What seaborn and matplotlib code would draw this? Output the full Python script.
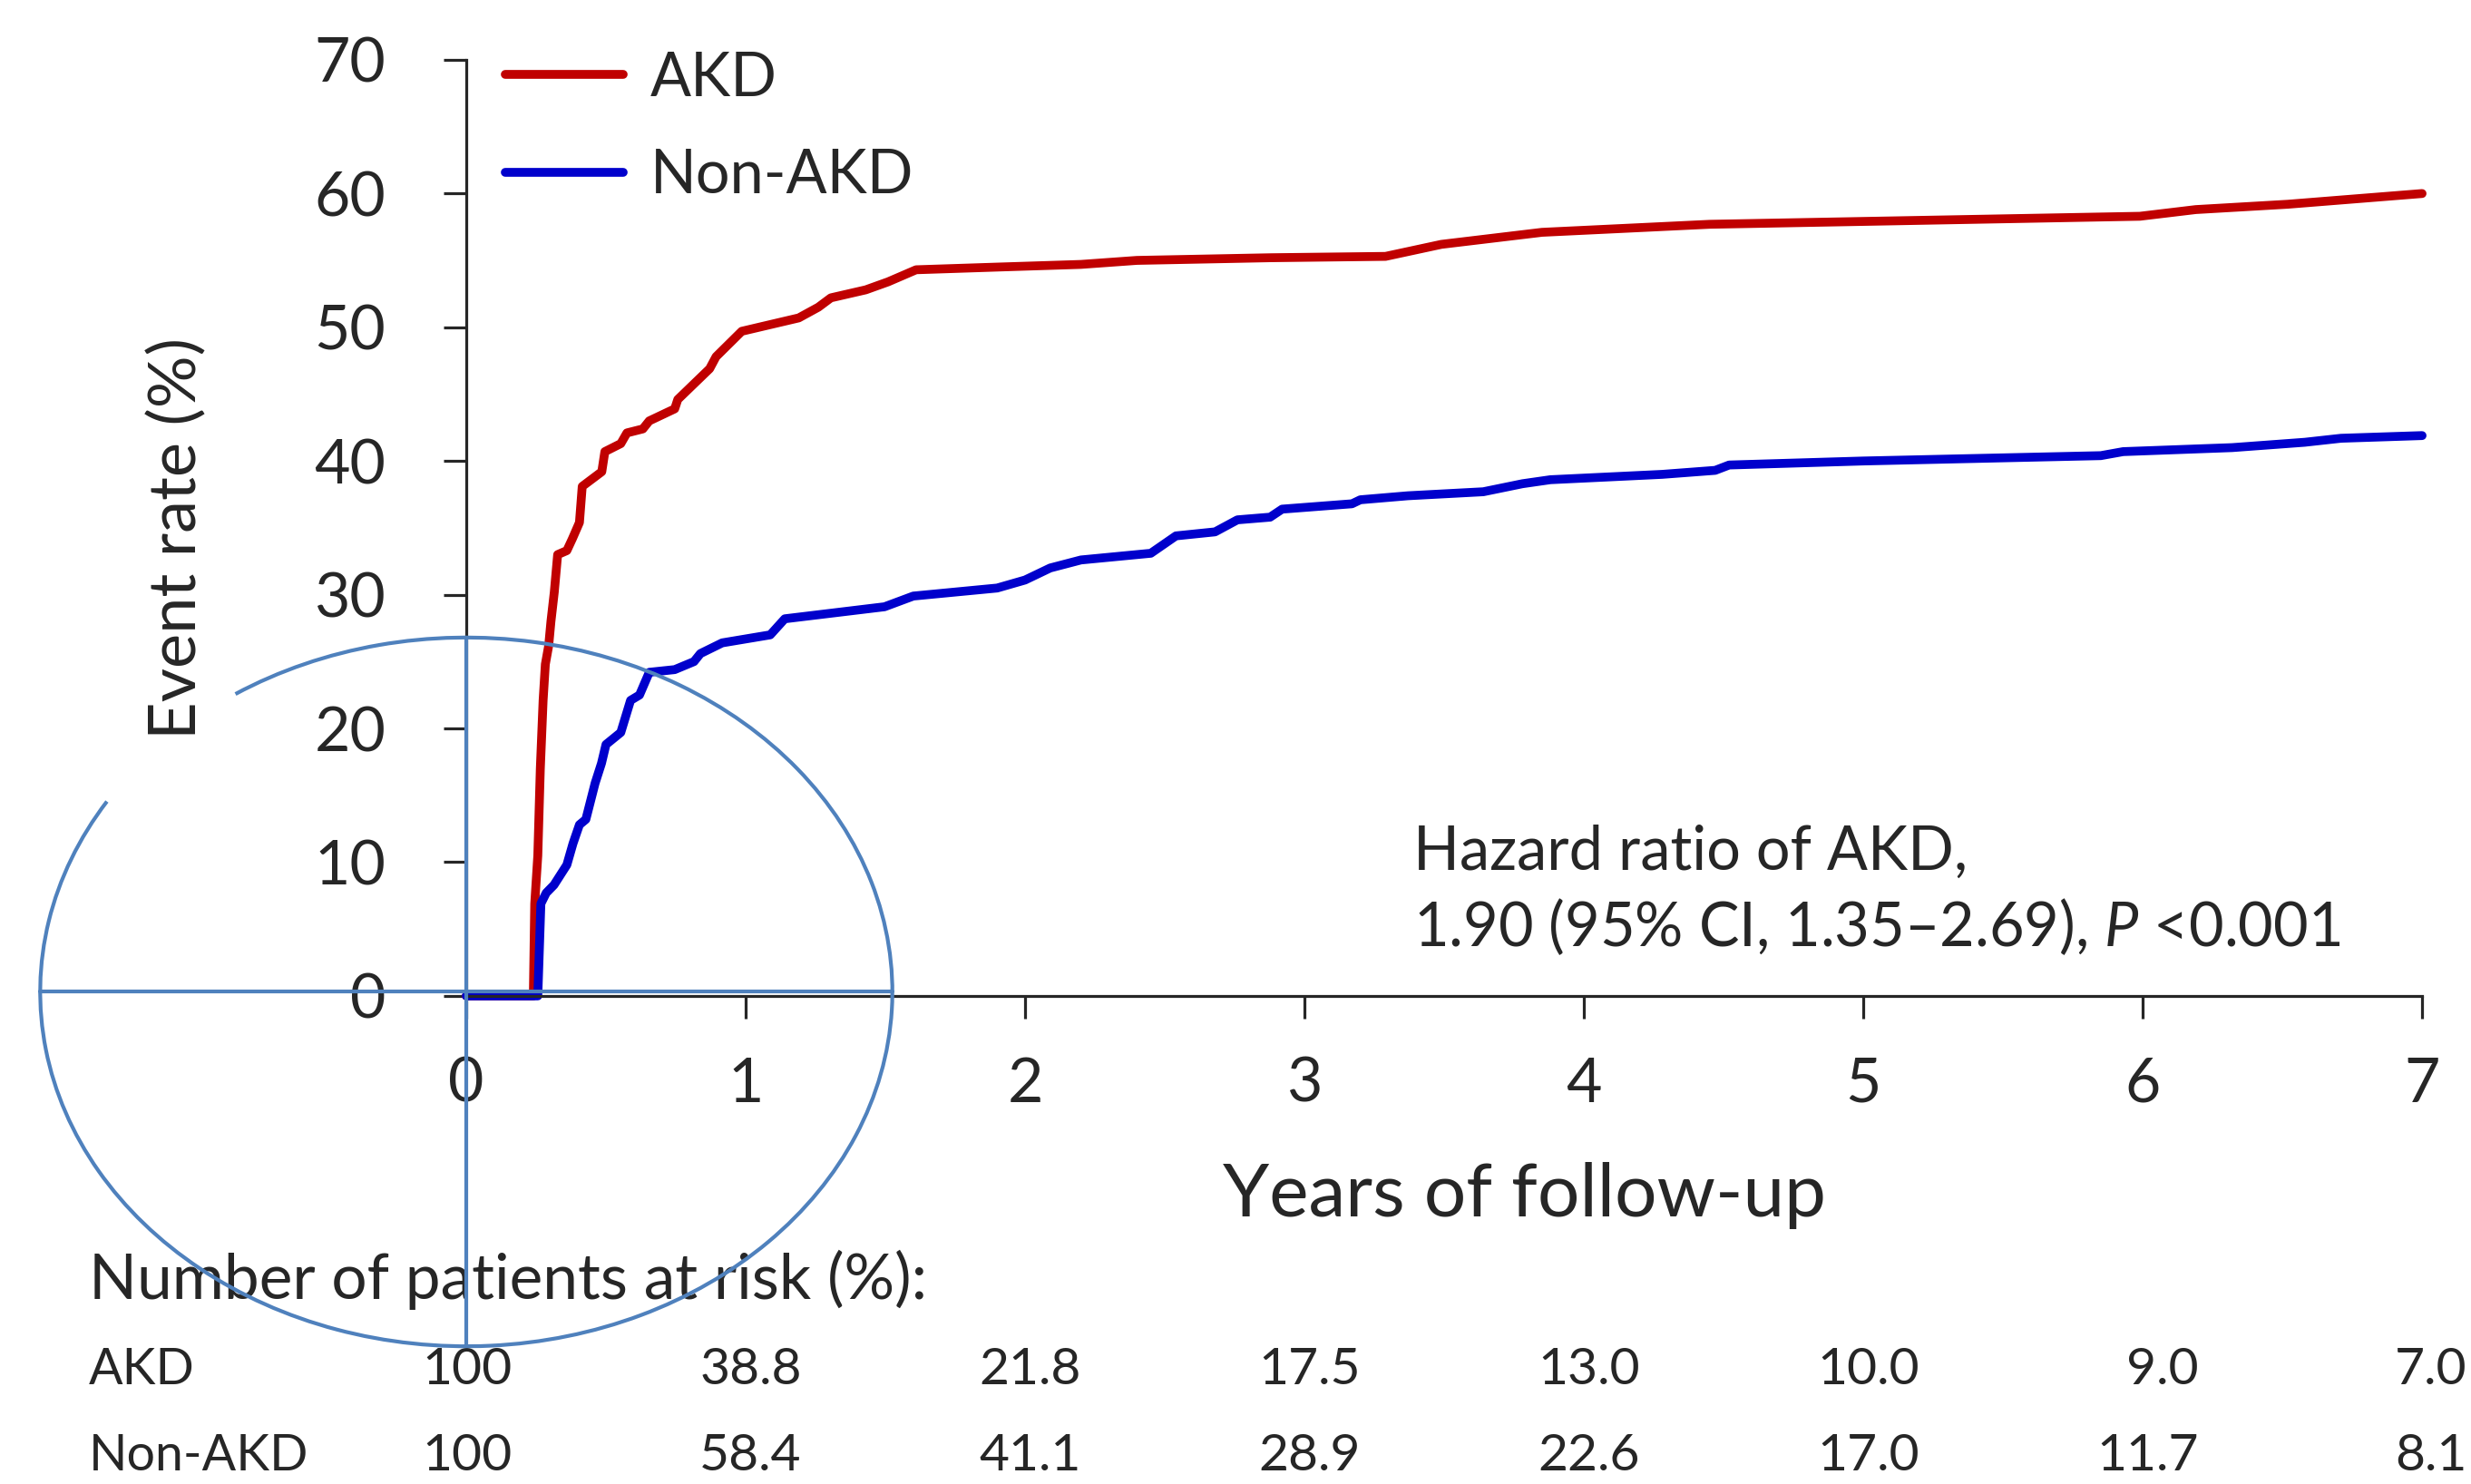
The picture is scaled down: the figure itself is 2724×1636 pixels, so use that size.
import numpy as np
import pandas as pd
import seaborn as sns
import matplotlib.pyplot as plt
from matplotlib.patches import Arc

# cumulative event rate (%)
akd_years = [0, 0.24, 0.245, 0.256, 0.265, 0.275, 0.283, 0.295, 0.303, 0.315, 0.327,
             0.36, 0.38, 0.405, 0.415, 0.485, 0.496, 0.553, 0.575, 0.632, 0.655,
             0.746, 0.757, 0.871, 0.894, 0.986, 1.19, 1.26, 1.305, 1.43, 1.51,
             1.61, 1.90, 2.2, 2.4, 2.88, 3.29, 3.49, 3.85, 4.45, 5.99, 6.19, 6.52, 7.0]
akd_rate = [0, 0, 6.9, 10.5, 17.0, 22.1, 24.8, 26.2, 28.0, 30.2, 33.0,
            33.3, 34.2, 35.4, 38.1, 39.2, 40.7, 41.3, 42.1, 42.4, 43.0,
            43.9, 44.6, 46.9, 47.8, 49.7, 50.7, 51.5, 52.2, 52.8, 53.4,
            54.3, 54.5, 54.7, 55.0, 55.2, 55.3, 56.2, 57.1, 57.7, 58.3, 58.8, 59.2, 60.0]

non_akd_years = [0, 0.256, 0.267, 0.286, 0.314, 0.36, 0.382, 0.405, 0.428, 0.461,
                 0.484, 0.5, 0.553, 0.588, 0.62, 0.655, 0.746, 0.815, 0.838, 0.916,
                 1.088, 1.14, 1.497, 1.60, 1.90, 2.0, 2.09, 2.2, 2.45, 2.54, 2.68,
                 2.76, 2.877, 2.92, 3.17, 3.20, 3.37, 3.64, 3.78, 3.88, 4.28, 4.47,
                 4.52, 5.0, 5.85, 5.93, 6.32, 6.58, 6.71, 7.0]
non_akd_rate = [0, 0, 6.9, 7.7, 8.3, 9.8, 11.4, 12.8, 13.2, 15.9,
                17.4, 18.8, 19.7, 22.1, 22.5, 24.2, 24.4, 25.0, 25.6, 26.4,
                27.0, 28.2, 29.1, 29.9, 30.5, 31.1, 32.0, 32.6, 33.1, 34.4, 34.7,
                35.6, 35.8, 36.4, 36.8, 37.1, 37.4, 37.7, 38.3, 38.6, 39.0, 39.3,
                39.7, 40.0, 40.4, 40.7, 41.0, 41.4, 41.7, 41.9]

# patients at risk table
risk_years = [0, 1, 2, 3, 4, 5, 6, 7]
risk_akd = ['100', '38.8', '21.8', '17.5', '13.0', '10.0', '9.0', '7.0']
risk_non_akd = ['100', '58.4', '41.1', '28.9', '22.6', '17.0', '11.7', '8.1']

df = pd.concat([
    pd.DataFrame({'years': akd_years, 'rate': akd_rate, 'group': 'AKD'}),
    pd.DataFrame({'years': non_akd_years, 'rate': non_akd_rate, 'group': 'Non-AKD'}),
])

sns.set_style('ticks')
plt.rcParams['font.family'] = ['Lato', 'DejaVu Sans']
plt.rcParams['mathtext.fontset'] = 'custom'
plt.rcParams['mathtext.rm'] = 'Lato'
plt.rcParams['mathtext.it'] = 'Lato:italic'

fig = plt.figure(figsize=(27.24, 16.36), dpi=100)
ax = fig.add_axes([0.1887, 0.3289, 0.9802 - 0.1887, 0.9597 - 0.3289])

sns.lineplot(data=df, x='years', y='rate', hue='group', hue_order=['AKD', 'Non-AKD'],
             palette={'AKD': '#c00000', 'Non-AKD': '#0000cc'}, linewidth=7,
             estimator=None, sort=False, ax=ax)
for ln in ax.lines:
    ln.set_clip_on(False)

ax.set_xlim(0, 7)
ax.set_ylim(0, 70)
ax.set_xticks(range(0, 8))
ax.set_yticks(range(0, 71, 10))
sns.despine(ax=ax)
for s in ['left', 'bottom']:
    ax.spines[s].set_linewidth(2.3)
ax.tick_params(axis='both', width=2.3, length=18, labelsize=49)
ax.tick_params(axis='x', pad=30)
ax.tick_params(axis='y', pad=46)

ax.set_xlabel('Years of follow-up', fontsize=59, va='center')
ax.xaxis.set_label_coords(0.541, -0.213)
ax.set_ylabel('Event rate (%)', fontsize=52, va='center')
ax.yaxis.set_label_coords(-0.148, 0.489)

handles, labels = ax.get_legend_handles_labels()
ax.legend(handles, labels, loc='upper left', bbox_to_anchor=(0.02, 1.01), frameon=False,
          fontsize=48, handlelength=1.95, handletextpad=0.45, labelspacing=0.68,
          borderpad=0, borderaxespad=0)

ax.text(3.39, 10.7, 'Hazard ratio of AKD,', fontsize=48, va='center', ha='left')
ax.text(3.39, 5.2, '1.90 (95% CI, 1.35\u20132.69), $P$ <0.001', fontsize=48,
        va='center', ha='left')

# risk table
ax.text(-1.35, -21.2, 'Number of patients at risk (%):', fontsize=50, va='center',
        ha='left', clip_on=False)
ax.text(-1.35, -28.0, 'AKD', fontsize=40, va='center', ha='left', clip_on=False)
ax.text(-1.35, -34.4, 'Non-AKD', fontsize=40, va='center', ha='left', clip_on=False)
pos = np.array(risk_years) + 0.2
pos[0] = 0.165
pos[-1] = 7.16
for xp, a, b in zip(pos, risk_akd, risk_non_akd):
    ax.text(xp, -28.0, a, fontsize=41, va='center', ha='right', clip_on=False)
    ax.text(xp, -34.4, b, fontsize=41, va='center', ha='right', clip_on=False)

# overlaid ellipse with cross lines (gap in the upper-left part of the outline)
oc = '#4f81bd'
ew, eh = 3.05, 53.0
t_start, t_end = np.radians(147.5), np.radians(482.8)
th1 = np.degrees(np.arctan2(eh * np.sin(t_start), ew * np.cos(t_start)))
th2 = np.degrees(np.arctan2(eh * np.sin(t_end), ew * np.cos(t_end)))
ax.add_patch(Arc((0, 0.3), ew, eh, theta1=th1, theta2=th2, color=oc,
                 linewidth=3, clip_on=False, zorder=5))
ax.plot([-ew / 2, ew / 2], [0.3, 0.3], color=oc, linewidth=3, clip_on=False, zorder=5)
ax.plot([0, 0], [-26.2, 26.8], color=oc, linewidth=3, clip_on=False, zorder=5)

fig.savefig('out.png', dpi=100)
